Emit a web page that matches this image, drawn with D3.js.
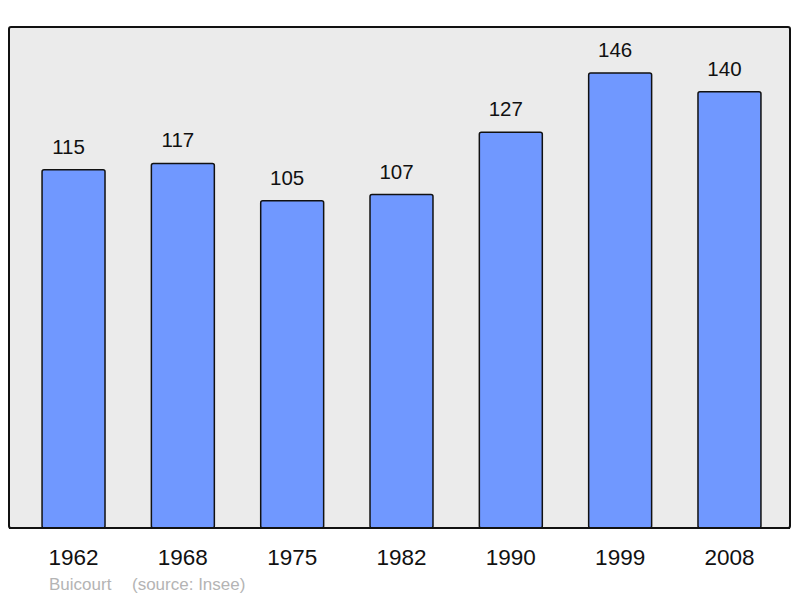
<!DOCTYPE html>
<html>
<head>
<meta charset="utf-8">
<script src="https://cdn.jsdelivr.net/npm/d3@7"></script>
<style>
  html, body { margin: 0; padding: 0; background: #ffffff; }
  svg { display: block; }
  text { font-family: "Liberation Sans", Arial, sans-serif; }
</style>
</head>
<body>
<svg id="chart" width="800" height="598"></svg>
<script>
const years = ["1962", "1968", "1975", "1982", "1990", "1999", "2008"];
const population = [115, 117, 105, 107, 127, 146, 140];
const commune = "Buicourt";
const source = "(source: Insee)";

const svg = d3.select("#chart");
const panel = { left: 9, top: 27, right: 790, bottom: 528 };

const x = d3.scaleBand()
  .domain(years)
  .range([11, 792])
  .paddingInner(0.424)
  .paddingOuter(0.284);

const y = d3.scaleLinear()
  .domain([0, 160.8])
  .range([panel.bottom, panel.top]);

svg.append("rect")
  .attr("x", panel.left)
  .attr("y", panel.top)
  .attr("width", panel.right - panel.left)
  .attr("height", panel.bottom - panel.top)
  .attr("rx", 2)
  .attr("fill", "#ebebeb")
  .attr("stroke", "#111")
  .attr("stroke-width", 2);

const data = years.map((yr, i) => ({ year: yr, value: population[i] }));

svg.append("g").selectAll("rect")
  .data(data)
  .join("rect")
  .attr("x", d => x(d.year))
  .attr("y", d => y(d.value))
  .attr("width", x.bandwidth())
  .attr("height", d => y(0) - y(d.value))
  .attr("rx", 2)
  .attr("fill", "#7098ff")
  .attr("stroke", "#111")
  .attr("stroke-width", 1.5);

svg.append("line")
  .attr("x1", panel.left).attr("x2", panel.right)
  .attr("y1", panel.bottom).attr("y2", panel.bottom)
  .attr("stroke", "#111").attr("stroke-width", 2);

svg.append("g").selectAll("text")
  .data(data)
  .join("text")
  .attr("x", d => x(d.year) + x.bandwidth() / 2 - 5)
  .attr("y", d => y(d.value) - 16)
  .attr("text-anchor", "middle")
  .attr("font-size", 20.5)
  .attr("fill", "#111")
  .text(d => d.value);

const xAxis = d3.axisBottom(x).tickSize(0).tickPadding(0);
const gx = svg.append("g")
  .attr("transform", `translate(0,${panel.bottom})`)
  .call(xAxis);
gx.select(".domain").remove();
gx.selectAll("text")
  .attr("dy", 0)
  .attr("y", 36.5)
  .attr("font-size", 22.5)
  .attr("font-family", "Liberation Sans, Arial, sans-serif")
  .attr("fill", "#111");

svg.append("text")
  .attr("x", 49).attr("y", 590)
  .attr("font-size", 17)
  .attr("fill", "#b4b4b4")
  .text(commune);
svg.append("text")
  .attr("x", 132).attr("y", 590)
  .attr("font-size", 17)
  .attr("fill", "#b4b4b4")
  .text(source);
</script>
</body>
</html>
